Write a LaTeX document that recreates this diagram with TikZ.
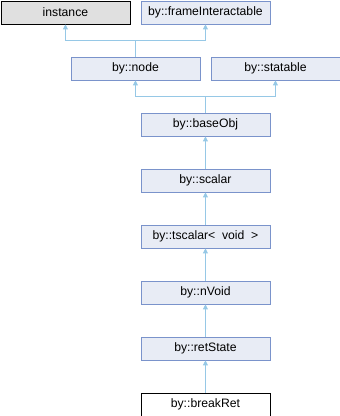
\documentclass[tikz,border=0pt]{standalone}
\usepackage{fontspec}
\setmainfont{Liberation Sans}
\usetikzlibrary{arrows.meta}
\definecolor{boxfill}{RGB}{232,236,245}
\definecolor{boxline}{RGB}{122,147,203}
\definecolor{edgecol}{RGB}{150,200,230}
\definecolor{grayfill}{RGB}{224,224,224}
\begin{document}
\begin{tikzpicture}[x=1pt,y=-1pt,
  cls/.style={draw=boxline,fill=boxfill,line width=0.9pt,minimum width=129pt,minimum height=23pt,inner sep=0pt,font=\fontsize{12.2}{14}\selectfont,anchor=north west},
  ext/.style={cls,draw=black,fill=grayfill},
  cur/.style={cls,draw=black,fill=white},
  inh/.style={draw=edgecol,line width=0.9pt,-{Triangle[width=5pt,length=5pt]}}]
\useasboundingbox (0,0) rectangle (340,416);
\node[ext] (instance) at (0.5,0.5) {instance};
\node[cls] (frame) at (140.5,0.5) {by::frameInteractable};
\node[cls] (node) at (70.5,56.5) {by::node};
\node[cls] (statable) at (210.5,56.5) {by::statable};
\node[cls] (base) at (140.5,112.5) {by::baseObj};
\node[cls] (scalar) at (140.5,168.5) {by::scalar};
\node[cls] (tscalar) at (140.5,224.5) {by::tscalar<~~void~~>};
\node[cls] (nvoid) at (140.5,280.5) {by::nVoid};
\node[cls] (ret) at (140.5,336.5) {by::retState};
\node[cur] (brk) at (140.5,392.5) {by::breakRet};
\coordinate (j1) at (node.north |- 0,40.5);
\coordinate (j2) at (base.north |- 0,96.5);
\draw[edgecol,line width=0.9pt] (node.north) -- (j1);
\draw[inh] (j1) -| (instance.south);
\draw[inh] (j1) -| (frame.south);
\draw[edgecol,line width=0.9pt] (base.north) -- (j2);
\draw[inh] (j2) -| (node.south);
\draw[inh] (j2) -| (statable.south);
\draw[inh] (scalar) -- (base);
\draw[inh] (tscalar) -- (scalar);
\draw[inh] (nvoid) -- (tscalar);
\draw[inh] (ret) -- (nvoid);
\draw[inh] (brk) -- (ret);
\end{tikzpicture}
\end{document}
